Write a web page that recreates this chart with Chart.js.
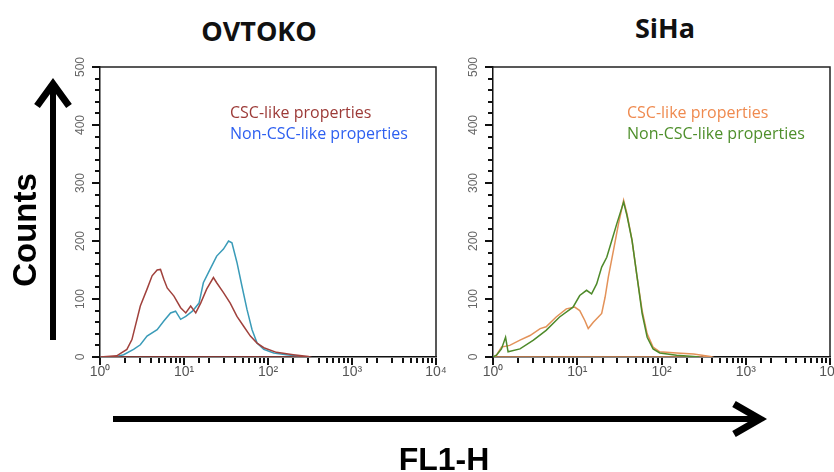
<!DOCTYPE html>
<html>
<head>
<meta charset="utf-8">
<script src="https://cdn.jsdelivr.net/npm/chart.js@4"></script>
<style>
  html, body { margin: 0; padding: 0; background: #fff; width: 834px; height: 472px; overflow: hidden; position: relative; }
  .panel { position: absolute; top: 40px; height: 350px; }
  .title { position: absolute; font-family: "Open Sans", sans-serif; font-weight: 700; font-size: 27px; color: #111; transform: translate(-50%, -50%); white-space: nowrap; }
  .legend { position: absolute; font-family: "Open Sans", sans-serif; font-size: 16px; white-space: nowrap; transform: translateY(-50%); }
  .big { position: absolute; font-family: "Liberation Sans", Arial, sans-serif; font-weight: 700; color: #000; white-space: nowrap; }
  svg { position: absolute; left: 0; top: 0; pointer-events: none; }
</style>
</head>
<body>

<div class="title" style="left:259px; top:30px;">OVTOKO</div>
<div class="title" style="left:665px; top:27px;">SiHa</div>

<div class="panel" style="left:50px; width:400px;"><canvas id="ovtokoChart"></canvas></div>
<div class="panel" style="left:443px; width:420px;"><canvas id="sihaChart"></canvas></div>

<div class="legend" style="left:230px; top:112px; color:#9c3a37;">CSC-like properties</div>
<div class="legend" style="left:230px; top:133px; color:#2d5ff0;">Non-CSC-like properties</div>
<div class="legend" style="left:627px; top:112px; color:#ef8a4f;">CSC-like properties</div>
<div class="legend" style="left:627px; top:133px; color:#4e8f2b;">Non-CSC-like properties</div>

<svg width="834" height="472">
  <line x1="53" y1="340" x2="53" y2="84" stroke="#000" stroke-width="6"/>
  <polyline points="37,106 53,84 69,106" fill="none" stroke="#000" stroke-width="7"/>
  <line x1="113" y1="419" x2="760" y2="419" stroke="#000" stroke-width="6"/>
  <polyline points="734,404 760,419 734,434" fill="none" stroke="#000" stroke-width="7"/>
</svg>
<div class="big" style="left:25px; top:230px; font-size:33px; transform:translate(-50%,-50%) rotate(-90deg);">Counts</div>
<div class="big" style="left:444px; top:459px; font-size:32px; transform:translate(-50%,-50%);">FL1-H</div>

<script>
// FL1-H values (log axis) and counts;
// the CSC outlines end back at the first channel, as in the cytometer plots
const ovtokoCscFl = [1, 1.58, 2.09, 2.4, 3.02, 3.63, 4.17, 4.79, 5.25, 5.75, 6.31, 7.59, 9.12, 10.5, 12.0, 13.8, 15.8, 18.6, 22.4, 24.5, 29.5, 35.5, 42.7, 51.3, 61.7, 74.1, 89.1, 126, 200, 302, 316, 1];
const ovtokoCscCounts = [0, 2, 13, 30, 88, 117, 140, 150, 151, 134, 119, 105, 85, 76, 88, 76, 93, 117, 137, 128, 111, 93, 70, 53, 36, 24, 16, 8, 4, 1, 0, 0];

const ovtokoNonFl = [1, 1.58, 1.91, 2.51, 3.02, 3.63, 4.79, 5.75, 6.92, 7.94, 9.12, 10.5, 12.6, 15.1, 17.0, 20.4, 24.5, 29.5, 33.9, 37.2, 42.7, 49.0, 56.2, 64.6, 74.1, 89.1, 117, 166, 240, 282];
const ovtokoNonCounts = [0, 1, 4, 13, 21, 36, 47, 62, 76, 79, 65, 70, 79, 93, 128, 151, 174, 186, 200, 197, 163, 122, 82, 47, 24, 13, 7, 4, 1, 0];

const sihaCscFl = [1, 1.10, 1.26, 1.58, 2.09, 2.75, 3.63, 4.27, 5.62, 7.41, 9.33, 10.7, 12.3, 13.5, 15.5, 17.8, 19.5, 21.4, 23.4, 26.9, 30.9, 35.5, 38.9, 44.7, 51.3, 58.9, 67.6, 79.4, 95.5, 151, 240, 380, 398, 1];
const sihaCscCounts = [0, 3, 17, 20, 29, 37, 49, 52, 69, 83, 86, 80, 63, 49, 60, 69, 75, 103, 138, 184, 230, 270, 247, 201, 138, 80, 40, 17, 9, 7, 5, 1, 0, 0];

const sihaNonFl = [1, 1.10, 1.26, 1.41, 1.51, 2.09, 3.02, 4.27, 6.17, 8.91, 10.7, 12.9, 14.8, 17.0, 19.5, 22.4, 25.7, 29.5, 35.5, 38.9, 44.7, 51.3, 58.9, 67.6, 79.4, 95.5, 151, 240, 282];
const sihaNonCounts = [0, 3, 14, 34, 9, 14, 29, 46, 69, 86, 106, 115, 109, 126, 155, 172, 201, 230, 267, 244, 201, 138, 75, 34, 14, 7, 3, 1, 0];

const xTickLabels = ['10\u2070', '10\u00b9', '10\u00b2', '10\u00b3', '10\u2074'];
const yMax = 500;

const toPoints = (xs, ys) => xs.map((x, i) => ({ x: x, y: ys[i] }));
const isDecade = (v) => { const e = Math.log10(v); return Math.abs(e - Math.round(e)) < 1e-9; };

// top and right edges of the frame plus outward tick marks (long at labelled ticks)
const boxPlugin = {
    id: 'box',
    afterDraw(chart) {
        const a = chart.chartArea;
        const ctx = chart.ctx;
        const xs = chart.scales.x;
        const ys = chart.scales.y;
        ctx.save();
        ctx.strokeStyle = '#222';
        ctx.lineWidth = 1.5;
        ctx.beginPath();
        ctx.moveTo(a.left, a.top);
        ctx.lineTo(a.right, a.top);
        ctx.lineTo(a.right, a.bottom);
        ctx.stroke();
        ctx.fillStyle = '#111';
        for (let i = 0; i < xs.ticks.length; i++) {
            const px = Math.round(xs.getPixelForTick(i));
            const len = isDecade(xs.ticks[i].value) ? 7 : 5;
            ctx.fillRect(px - 1, a.bottom + 1, 2, len);
        }
        for (let i = 0; i < ys.ticks.length; i++) {
            const py = Math.round(ys.getPixelForTick(i));
            const len = ys.ticks[i].value % 100 === 0 ? 7 : 4;
            ctx.fillRect(a.left - len - 1, py - 1, len, 2);
        }
        ctx.restore();
    }
};

function makeChart(id, datasets, rightPad) {
    return new Chart(document.getElementById(id).getContext('2d'), {
        type: 'line',
        data: { datasets: datasets },
        options: {
            responsive: true,
            maintainAspectRatio: false,
            animation: false,
            layout: { padding: { top: 27, right: rightPad, left: 0, bottom: 0 } },
            plugins: { legend: { display: false }, tooltip: { enabled: false } },
            elements: { point: { radius: 0 }, line: { tension: 0, borderWidth: 1.5 } },
            scales: {
                x: {
                    type: 'logarithmic',
                    min: 1,
                    max: 10000,
                    afterFit(scale) { scale.height = 33; },
                    border: { display: true, color: '#111', width: 1.5 },
                    grid: { drawOnChartArea: false, drawTicks: true, tickLength: 6, color: 'rgba(0,0,0,0)' },
                    ticks: {
                        autoSkip: false,
                        maxRotation: 0,
                        padding: 1,
                        color: '#555',
                        font: { family: '"Liberation Sans", Arial, sans-serif', size: 14 },
                        callback(value) {
                            return isDecade(value) ? xTickLabels[Math.round(Math.log10(value))] : '';
                        }
                    }
                },
                y: {
                    min: 0,
                    max: yMax,
                    afterFit(scale) { scale.width = 50; },
                    border: { display: true, color: '#111', width: 1.5 },
                    grid: { drawOnChartArea: false, drawTicks: true, tickLength: 6, color: 'rgba(0,0,0,0)' },
                    ticks: {
                        stepSize: 20,
                        autoSkip: false,
                        minRotation: 90,
                        maxRotation: 90,
                        crossAlign: 'center',
                        padding: 3,
                        color: '#666',
                        font: { family: '"Liberation Sans", Arial, sans-serif', size: 12 },
                        callback(value) { return value % 100 === 0 ? String(value) : ''; }
                    }
                }
            }
        },
        plugins: [boxPlugin]
    });
}

makeChart('ovtokoChart', [
    { label: 'CSC-like properties', data: toPoints(ovtokoCscFl, ovtokoCscCounts), borderColor: '#a0413c', order: 0 },
    { label: 'Non-CSC-like properties', data: toPoints(ovtokoNonFl, ovtokoNonCounts), borderColor: '#3a9bb8', order: 1 }
], 14);

makeChart('sihaChart', [
    { label: 'CSC-like properties', data: toPoints(sihaCscFl, sihaCscCounts), borderColor: '#e39259', order: 1 },
    { label: 'Non-CSC-like properties', data: toPoints(sihaNonFl, sihaNonCounts), borderColor: '#4e8a2a', order: 0 }
], 33);
</script>
</body>
</html>
